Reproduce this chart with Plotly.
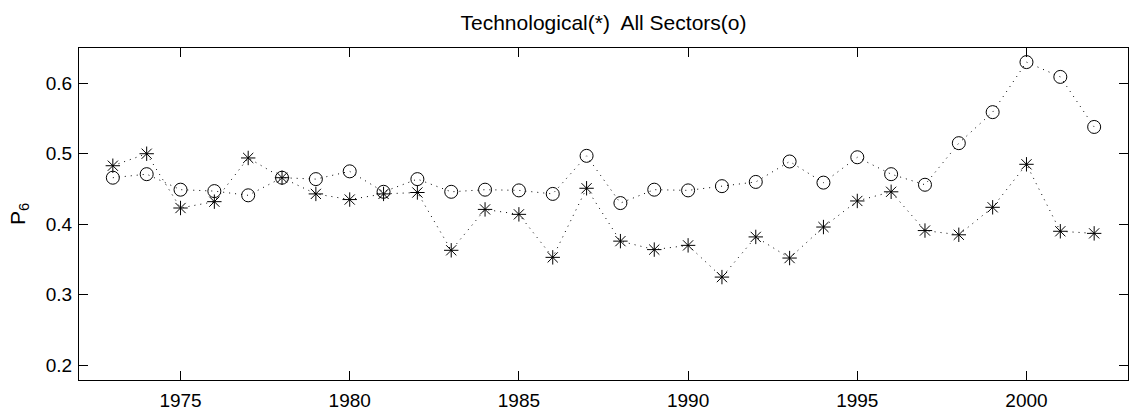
import plotly.graph_objects as go

years = list(range(1973, 2003))
technological = [0.483, 0.500, 0.423, 0.432, 0.494, 0.466, 0.443, 0.435, 0.443, 0.445,
                 0.363, 0.421, 0.414, 0.353, 0.451, 0.376, 0.364, 0.370, 0.325, 0.382,
                 0.352, 0.396, 0.433, 0.446, 0.391, 0.385, 0.424, 0.485, 0.390, 0.387]
all_sectors = [0.466, 0.471, 0.449, 0.447, 0.441, 0.466, 0.464, 0.475, 0.446, 0.464,
               0.446, 0.449, 0.448, 0.443, 0.497, 0.430, 0.449, 0.448, 0.454, 0.460,
               0.489, 0.459, 0.495, 0.471, 0.456, 0.515, 0.559, 0.630, 0.609, 0.538]
x_ticks = [1975, 1980, 1985, 1990, 1995, 2000]
y_ticks = [0.2, 0.3, 0.4, 0.5, 0.6]

FONT = "Liberation Sans, Arial, Helvetica, sans-serif"

fig = go.Figure()
fig.add_trace(go.Scatter(
    x=years, y=technological, mode="lines+markers",
    line=dict(color="black", width=1, dash="1px,5px"),
    marker=dict(symbol="asterisk-open", size=12, color="black",
                line=dict(color="black", width=1)),
    showlegend=False, name="Technological"))
fig.add_trace(go.Scatter(
    x=years, y=all_sectors, mode="lines+markers",
    line=dict(color="black", width=1, dash="1px,5px"),
    marker=dict(symbol="circle-open", size=13, color="black",
                line=dict(color="black", width=1)),
    showlegend=False, name="All Sectors"))

axis_common = dict(showline=True, linecolor="black", linewidth=1, mirror="ticks",
                   ticks="inside", ticklen=9, tickcolor="black", tickwidth=1,
                   showgrid=False, zeroline=False, automargin=False,
                   tickfont=dict(family=FONT, size=19, color="black"))

fig.update_layout(
    width=1130, height=414,
    margin=dict(l=79, r=2, t=48, b=34),
    paper_bgcolor="white", plot_bgcolor="white",
    title=dict(text="Technological(*)  All Sectors(o)",
               font=dict(family=FONT, size=21, color="black"),
               x=0.5, xanchor="center", xref="paper",
               y=1 - 23 / 414, yanchor="middle", yref="container"),
    xaxis=dict(range=[1972, 2003], tickvals=x_ticks,
               ticktext=[str(v) for v in x_ticks],
               ticklabelstandoff=3, **axis_common),
    yaxis=dict(range=[0.179, 0.65], tickvals=y_ticks,
               ticktext=[f"{v:.1f}" for v in y_ticks],
               ticklabelstandoff=2,
               title=dict(text="P<sub>6</sub>", standoff=14,
                          font=dict(family=FONT, size=21, color="black")),
               **axis_common),
)

fig.write_html(
    "out.html",
    config={"displayModeBar": False},
    post_script="document.body.style.margin='0';document.body.style.padding='0';"
                "document.body.style.overflow='hidden';",
)
